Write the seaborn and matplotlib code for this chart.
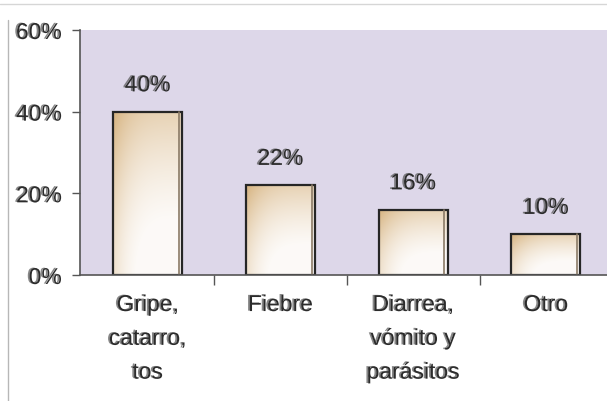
import numpy as np
import pandas as pd
import matplotlib
matplotlib.use("Agg")
import matplotlib.pyplot as plt
import matplotlib.patheffects as pe
from matplotlib.ticker import FuncFormatter
import seaborn as sns

# data
categories = ["Gripe,\ncatarro,\ntos", "Fiebre", "Diarrea,\nvómito y\nparásitos", "Otro"]
values = [40, 22, 16, 10]
y_ticks = [0, 20, 40, 60]

sns.set_theme(style="white")
plt.rcParams["font.family"] = ["Liberation Sans", "DejaVu Sans"]

df = pd.DataFrame({"causa": categories, "pct": values})

fig = plt.figure(figsize=(6.07, 4.01), dpi=100)
fig.patch.set_facecolor("white")
ax = fig.add_axes([80 / 607, 1 - 275 / 401, 1 - 80 / 607, (275 - 30) / 401])
ax.set_facecolor("#ddd7e9")

sns.barplot(data=df, x="causa", y="pct", ax=ax, width=0.52, color="white",
            edgecolor="#262626", linewidth=1.6, saturation=1)

# tan -> white gradient inside each bar
gy, gx = np.mgrid[0:1:200j, 0:1:100j]
t = np.clip(0.7 * (1 - gy) ** 1.8 + 0.5 * (1 - gx) ** 4 - 0.1, 0, 1)
tan = np.array([0.85, 0.72, 0.53])
wht = np.array([0.99, 0.98, 0.97])
img = wht[None, None, :] * (1 - t[..., None]) + tan[None, None, :] * t[..., None]
for bar in ax.patches:
    x0, y0 = bar.get_x(), bar.get_y()
    w, h = bar.get_width(), bar.get_height()
    im = ax.imshow(img, extent=[x0, x0 + w, y0, y0 + h], origin="upper",
                   aspect="auto", zorder=bar.get_zorder() - 0.1)
    im.set_clip_path(bar)
    bar.set_facecolor("none")
    # darker right side
    ax.plot([x0 + w * 0.95, x0 + w * 0.95], [y0, y0 + h], color="#8a7a66",
            lw=1.2, zorder=bar.get_zorder())

# scanned text looks doubled, fake it with a side shadow
txt_fx = [pe.withSimplePatchShadow(offset=(-1.3, 0.3), shadow_rgbFace="#555555", alpha=0.7)]
fs = 16.5

for bar, v in zip(ax.patches, values):
    ax.annotate(f"{v}%", (bar.get_x() + bar.get_width() / 2, bar.get_height()),
                xytext=(0, 11), textcoords="offset points", ha="center", va="bottom",
                fontsize=fs, color="#2b2b2b", path_effects=txt_fx)

ax.set_ylim(0, 60)
ax.set_xlim(-0.51, 3.46)
ax.set_yticks(y_ticks)
ax.yaxis.set_major_formatter(FuncFormatter(lambda v, p: f"{v:.0f}%"))
ax.set_xlabel("")
ax.set_ylabel("")

ax.set_xticks([0.5, 1.5, 2.5], minor=True)
ax.tick_params(axis="x", which="major", length=0, pad=13, labelsize=fs, labelcolor="#2b2b2b")
ax.tick_params(axis="x", which="minor", length=7, width=1, color="#555555", direction="out", bottom=True)
ax.tick_params(axis="y", length=6, width=1, color="#555555", direction="out", left=True,
               pad=7, labelsize=fs, labelcolor="#2b2b2b")
for lab in ax.get_xticklabels() + ax.get_yticklabels():
    lab.set_path_effects(txt_fx)
    lab.set_linespacing(1.6)
for lab in ax.get_xticklabels():
    lab.set_verticalalignment("top")

sns.despine(ax=ax, top=True, right=True)
ax.spines["left"].set_color("#555555")
ax.spines["bottom"].set_color("#555555")
ax.spines["left"].set_linewidth(1.2)
ax.spines["bottom"].set_linewidth(1.2)

# faint border of the scanned page
fig.add_artist(plt.Line2D([8 / 607, 8 / 607], [0, 0.95], color="#888888", lw=1, alpha=0.6))
fig.add_artist(plt.Line2D([0, 1], [1 - 4 / 401, 1 - 4 / 401], color="#999999", lw=1, alpha=0.4))

fig.savefig("out.png", dpi=100)
